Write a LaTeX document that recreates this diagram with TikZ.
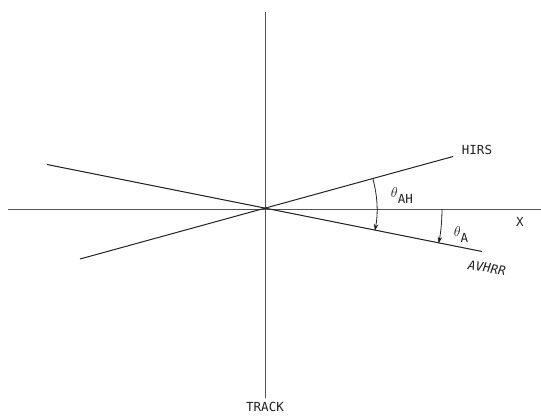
\documentclass[tikz,border=0pt]{standalone}
\usepackage{fontspec}
\setmonofont{DejaVu Sans Mono}
\usepackage{tikz}
\usetikzlibrary{arrows.meta,positioning,calc}
\definecolor{axisGray}{HTML}{555555}
\definecolor{lineInk}{HTML}{222222}

\begin{document}
\begin{tikzpicture}[x=1pt,y=1pt,
    font=\ttfamily\fontsize{12.5}{13}\selectfont,
    axis/.style={draw=axisGray,line width=0.6pt},
    beam/.style={draw=lineInk,line width=1pt},
    angarrow/.style={draw=lineInk,line width=0.8pt,-{Stealth[length=7pt,width=4.5pt]}},
    lbl/.style={inner sep=1pt,text=lineInk}]
  \useasboundingbox (-265,-207) rectangle (276,209);
  \coordinate (o) at (0,0);
  % axes
  \coordinate (trackTop) at (0,197);
  \coordinate (trackBot) at (0,-189);
  \coordinate (xLeft) at (-257,0);
  \coordinate (xRight) at (276,0);
  \draw[axis] (trackTop) -- (trackBot);
  \draw[axis] (xLeft) -- (xRight);
  \node[lbl,below=3pt of trackBot] (track) {TRACK};
  \node[lbl] (xlab) at (255,-13) {X};
  % scan lines
  \coordinate (hirsL) at (-185,-50);
  \coordinate (hirsR) at (188,52.5);
  \coordinate (avhrrL) at (-218,44.5);
  \coordinate (avhrrR) at (217,-42.5);
  \draw[beam] (hirsL) -- (hirsR);
  \draw[beam] (avhrrL) -- (avhrrR);
  \node[lbl] (hirs) at (212,59) {HIRS};
  \node[lbl,rotate=-8] (avhrr) at (222,-59) {\itshape AVHRR};
  % angles
  \draw[angarrow] (o) ++(15.4:112) arc[start angle=15.4,end angle=-11.3,radius=112];
  \draw[angarrow] (o) ++(0:177) arc[start angle=0,end angle=-11.3,radius=177];
  \node[lbl] (thAH) at (137,14) {{\fontsize{15}{15}\selectfont$\theta$}\raisebox{-6pt}{AH}};
  \node[lbl] (thA) at (196,-25) {{\fontsize{15}{15}\selectfont$\theta$}\raisebox{-6pt}{A}};
\end{tikzpicture}
\end{document}
